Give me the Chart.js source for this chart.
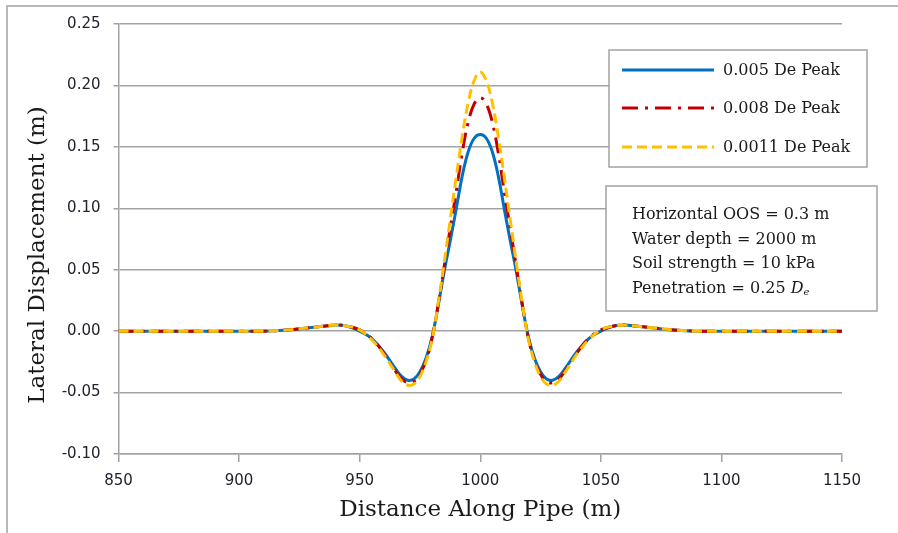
<!DOCTYPE html>
<html>
<head>
<meta charset="utf-8">
<title>Lateral Displacement</title>
<script src="https://cdn.jsdelivr.net/npm/chart.js@4.4.0/dist/chart.umd.min.js"></script>
<style>
  html, body { margin: 0; padding: 0; background: #fff; }
  #wrap { position: relative; width: 898px; height: 533px; }
</style>
</head>
<body>
<div id="wrap"><canvas id="myChart" width="898" height="533"></canvas></div>
<script>
"use strict";

// DATA
const distance = [850, 860, 870, 880, 890, 900, 910, 920, 930, 935, 940, 945, 950, 955, 960, 965, 967.5, 970, 972.5, 975, 977.5, 980, 982.5, 985, 987.5, 990, 992.5, 995, 997.5, 1000, 1002.5, 1005, 1007.5, 1010, 1012.5, 1015, 1017.5, 1020, 1022.5, 1025, 1027.5, 1030, 1032.5, 1035, 1040, 1045, 1050, 1055, 1060, 1065, 1070, 1080, 1090, 1100, 1110, 1120, 1130, 1140, 1150];

const peak005 = [0, 0, 0, 0, 0, 0, 0, 0.001, 0.003, 0.004, 0.005, 0.004, 0.000, -0.006, -0.017, -0.031, -0.037, -0.040, -0.039, -0.033, -0.022, -0.005, 0.020, 0.048, 0.073, 0.099, 0.126, 0.146, 0.157, 0.160, 0.157, 0.146, 0.126, 0.099, 0.073, 0.048, 0.020, -0.005, -0.022, -0.033, -0.039, -0.040, -0.037, -0.031, -0.017, -0.006, 0.000, 0.004, 0.005, 0.004, 0.003, 0.001, 0, 0, 0, 0, 0, 0, 0];

const peak008 = [0, 0, 0, 0, 0, 0, 0, 0.001, 0.003, 0.004, 0.005, 0.004, 0.001, -0.006, -0.018, -0.033, -0.039, -0.042, -0.041, -0.035, -0.024, -0.006, 0.021, 0.052, 0.083, 0.113, 0.145, 0.170, 0.185, 0.190, 0.185, 0.170, 0.145, 0.113, 0.083, 0.052, 0.021, -0.006, -0.024, -0.035, -0.041, -0.042, -0.039, -0.033, -0.018, -0.006, 0.001, 0.004, 0.005, 0.004, 0.003, 0.001, 0, 0, 0, 0, 0, 0, 0];

const peak0011 = [0, 0, 0, 0, 0, 0, 0, 0.001, 0.003, 0.004, 0.005, 0.004, 0.001, -0.007, -0.019, -0.034, -0.041, -0.044, -0.043, -0.037, -0.025, -0.007, 0.022, 0.055, 0.090, 0.125, 0.158, 0.186, 0.204, 0.211, 0.204, 0.186, 0.158, 0.125, 0.090, 0.055, 0.022, -0.007, -0.025, -0.037, -0.043, -0.044, -0.041, -0.034, -0.019, -0.007, 0.001, 0.004, 0.005, 0.004, 0.003, 0.001, 0, 0, 0, 0, 0, 0, 0];

const seriesLabels = ["0.005 De Peak", "0.008 De Peak", "0.0011 De Peak"];
const xTicks = [850, 900, 950, 1000, 1050, 1100, 1150];
const yTicks = [-0.10, -0.05, 0.00, 0.05, 0.10, 0.15, 0.20, 0.25];
const noteLines = ["Horizontal OOS = 0.3 m", "Water depth = 2000 m", "Soil strength = 10 kPa", "Penetration = 0.25 "];
const yTitle = "Lateral Displacement (m)";
const xTitle = "Distance Along Pipe (m)";

// STYLES
const colors = ["#0070C0", "#C00000", "#FFC000"];
const dashes = [[], [16, 7, 3, 7], [10, 5]];
const gridColor = "#a3a3a3";
const textColor = "#1a1a1a";
const serif = "'DejaVu Serif', serif";
const tickFont = { family: "'DejaVu Sans'", size: 15 };

const toPoints = (ys) => distance.map((d, i) => ({ x: d, y: ys[i] }));

// FRAME, Y TITLE, LEGEND AND NOTE BOX
const extras = {
  id: "extras",
  beforeDraw(chart) {
    const c = chart.ctx;
    c.save();
    c.fillStyle = "#fff";
    c.fillRect(0, 0, chart.width, chart.height);
    c.strokeStyle = gridColor;
    c.lineWidth = 1.5;
    c.beginPath();
    c.moveTo(7, chart.height);
    c.lineTo(7, 6);
    c.lineTo(chart.width, 6);
    c.stroke();
    // y axis title
    c.translate(38, 255);
    c.rotate(-Math.PI / 2);
    c.font = "23px " + serif;
    c.fillStyle = textColor;
    c.textAlign = "center";
    c.textBaseline = "middle";
    c.fillText(yTitle, 0, 0);
    c.restore();
  },
  afterDatasetsDraw(chart) {
    const c = chart.ctx;
    c.save();
    // legend box
    c.fillStyle = "#fff";
    c.strokeStyle = gridColor;
    c.lineWidth = 1.5;
    c.fillRect(609, 50, 258, 117);
    c.strokeRect(609, 50, 258, 117);
    const rows = [70, 108, 147];
    c.font = "16px " + serif;
    c.textBaseline = "middle";
    seriesLabels.forEach((lab, i) => {
      c.strokeStyle = colors[i];
      c.lineWidth = 3;
      c.setLineDash(dashes[i]);
      c.beginPath();
      c.moveTo(622, rows[i]);
      c.lineTo(714, rows[i]);
      c.stroke();
      c.setLineDash([]);
      c.fillStyle = textColor;
      c.fillText(lab, 723, rows[i] + 1);
    });
    // note box
    c.fillStyle = "#fff";
    c.strokeStyle = gridColor;
    c.lineWidth = 1.5;
    c.fillRect(606, 186, 271, 125);
    c.strokeRect(606, 186, 271, 125);
    c.fillStyle = textColor;
    c.textBaseline = "alphabetic";
    noteLines.forEach((t, i) => {
      const y = 219 + i * 24.5;
      c.font = "16px " + serif;
      c.fillText(t, 632, y);
      if (i === noteLines.length - 1) {
        const w = c.measureText(t).width;
        c.font = "italic 16px " + serif;
        c.fillText("D", 632 + w, y);
        const wd = c.measureText("D").width;
        c.font = "italic 10px " + serif;
        c.fillText("e", 632 + w + wd, y + 2);
      }
    });
    c.restore();
  },
};

// CHART
const ctx = document.getElementById("myChart");
const chart = new Chart(ctx, {
  type: "line",
  data: {
    datasets: seriesLabels.map((lab, i) => ({
      label: lab,
      data: toPoints([peak005, peak008, peak0011][i]),
      borderColor: colors[i],
      backgroundColor: colors[i],
      borderWidth: 3,
      borderDash: dashes[i],
      pointRadius: 0,
      tension: 0.4,
      fill: false,
      order: 3 - i,
    })),
  },
  options: {
    responsive: false,
    devicePixelRatio: 1,
    animation: false,
    layout: { padding: { left: 0, top: 24, right: 56, bottom: 0 } },
    plugins: {
      legend: { display: false },
      tooltip: { enabled: false },
    },
    scales: {
      x: {
        type: "linear",
        min: 850,
        max: 1150,
        afterBuildTicks: (scale) => {
          scale.ticks = xTicks.map((v) => ({ value: v }));
        },
        afterFit: (scale) => {
          scale.height = 79;
        },
        grid: {
          drawOnChartArea: false,
          drawTicks: true,
          tickLength: 8,
          color: gridColor,
          lineWidth: 1.5,
        },
        border: { display: true, color: gridColor, width: 1.5 },
        ticks: {
          padding: 10,
          color: "#22222e",
          font: tickFont,
          maxRotation: 0,
          callback: (v) => String(v),
        },
        title: {
          display: true,
          text: xTitle,
          color: textColor,
          font: { family: serif, size: 23 },
          padding: { top: 0, bottom: 9 },
        },
      },
      y: {
        min: -0.1,
        max: 0.25,
        afterBuildTicks: (scale) => {
          scale.ticks = yTicks.map((v) => ({ value: v }));
        },
        afterFit: (scale) => {
          scale.width = 118.5;
        },
        grid: {
          color: gridColor,
          lineWidth: 1.5,
          tickLength: 5,
        },
        border: { display: true, color: gridColor, width: 1.5 },
        ticks: {
          padding: 13,
          color: "#22222e",
          font: tickFont,
          callback: (v) => Number(v).toFixed(2),
        },
      },
    },
  },
  plugins: [extras],
});
</script>
</body>
</html>
